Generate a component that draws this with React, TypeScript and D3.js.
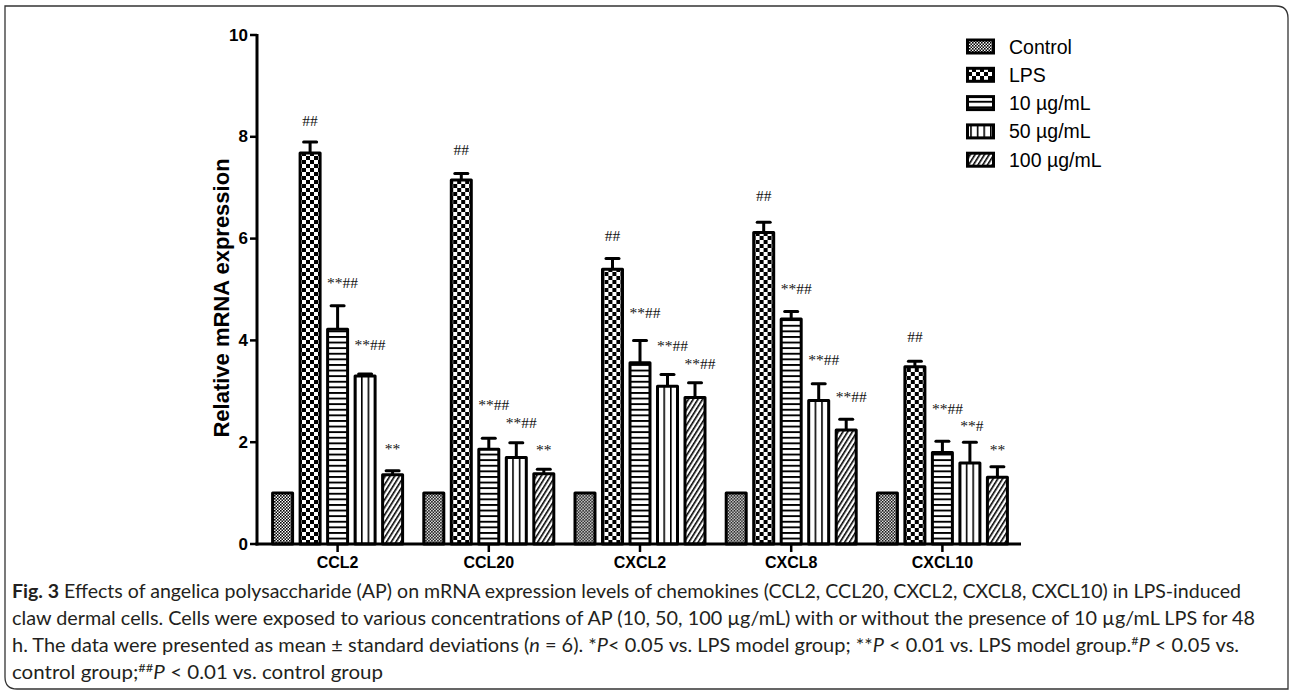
import React from "react";
import * as d3 from "d3";

const categories = ["CCL2", "CCL20", "CXCL2", "CXCL8", "CXCL10"];
const seriesNames = ["Control", "LPS", "10 µg/mL", "50 µg/mL", "100 µg/mL"];
const patternIds = ["pCtrl", "pLps", "p10", "p50", "p100"];

const controlValues = [1, 1, 1, 1, 1];
const controlErr = [0, 0, 0, 0, 0];
const lpsValues = [7.68, 7.15, 5.4, 6.12, 3.48];
const lpsErr = [0.22, 0.13, 0.21, 0.2, 0.11];
const ug10Values = [4.22, 1.86, 3.56, 4.42, 1.8];
const ug10Err = [0.46, 0.22, 0.44, 0.15, 0.22];
const ug50Values = [3.3, 1.7, 3.1, 2.82, 1.59];
const ug50Err = [0.04, 0.29, 0.23, 0.33, 0.41];
const ug100Values = [1.36, 1.38, 2.88, 2.24, 1.31];
const ug100Err = [0.08, 0.09, 0.29, 0.21, 0.21];

// significance marks and the level (in axis units) at which each is written
const controlMarks = ["", "", "", "", ""];
const lpsMarks = ["##", "##", "##", "##", "##"];
const ug10Marks = ["**##", "**##", "**##", "**##", "**##"];
const ug50Marks = ["**##", "**##", "**##", "**##", "**#"];
const ug100Marks = ["**", "**", "**##", "**##", "**"];

const controlMarkAt = [0, 0, 0, 0, 0];
const lpsMarkAt = [8.32, 7.76, 6.06, 6.84, 4.07];
const ug10MarkAt = [5.13, 2.75, 4.54, 5.01, 2.67];
const ug50MarkAt = [3.91, 2.38, 3.89, 3.63, 2.32];
const ug100MarkAt = [1.87, 1.85, 3.54, 2.89, 1.85];

const yTicks = [0, 2, 4, 6, 8, 10];

const seriesValues = [controlValues, lpsValues, ug10Values, ug50Values, ug100Values];
const seriesErrs = [controlErr, lpsErr, ug10Err, ug50Err, ug100Err];
const seriesMarks = [controlMarks, lpsMarks, ug10Marks, ug50Marks, ug100Marks];
const seriesMarkAt = [controlMarkAt, lpsMarkAt, ug10MarkAt, ug50MarkAt, ug100MarkAt];

const W = 1292;
const H = 693;
const AXIS_X = 257;
const AXIS_END = 1021;
const Y0 = 544;
const Y10 = 35;

export default function App() {
  const y = d3.scaleLinear().domain([0, 10]).range([Y0, Y10]);
  const x0 = d3.scaleBand<string>().domain(categories).range([262, 1018]).padding(0);
  const groupW = 133;
  const off = (x0.bandwidth() - groupW) / 2;
  const x1 = d3
    .scaleBand<string>()
    .domain(seriesNames)
    .range([off, off + groupW])
    .paddingInner(0.164)
    .paddingOuter(0);
  const bw = x1.bandwidth();
  const sw = 3;

  const font = "'Liberation Sans', Arial, sans-serif";
  const capFont = "Lato, 'Open Sans', sans-serif";

  return (
    <svg
      width={W}
      height={H}
      style={{ position: "absolute", left: 0, top: 0, background: "#fff" }}
    >
      <defs>
        <pattern id="pCtrl" width={3} height={3} patternUnits="userSpaceOnUse">
          <rect width={3} height={3} fill="#fff" />
          <rect width={1.6} height={1.6} fill="#000" />
          <rect x={1.5} y={1.5} width={1.6} height={1.6} fill="#000" />
        </pattern>
        <pattern id="pLps" width={8} height={8} patternUnits="userSpaceOnUse">
          <rect width={8} height={8} fill="#fff" />
          <rect width={4} height={4} fill="#000" />
          <rect x={4} y={4} width={4} height={4} fill="#000" />
        </pattern>
        <pattern id="p10" width={6} height={5.6} patternUnits="userSpaceOnUse">
          <rect width={6} height={5.6} fill="#fff" />
          <rect width={6} height={1.9} fill="#000" />
        </pattern>
        <pattern id="p50" width={6.6} height={6} patternUnits="userSpaceOnUse">
          <rect width={6.6} height={6} fill="#fff" />
          <rect width={1.6} height={6} fill="#000" />
        </pattern>
        <pattern
          id="p100"
          width={4}
          height={4}
          patternUnits="userSpaceOnUse"
          patternTransform="rotate(32)"
        >
          <rect width={4} height={4} fill="#fff" />
          <rect width={1.6} height={4} fill="#000" />
        </pattern>
      </defs>

      {/* frame */}
      <path
        d={`M5,6 H1276 Q1288,6 1288,18 V689 H17 Q5,689 5,677 Z`}
        fill="none"
        stroke="#333"
        strokeWidth={1.3}
      />

      {/* bars */}
      {categories.map((c, ci) => (
        <g key={c} transform={`translate(${x0(c)},0)`}>
          {seriesNames.map((s, si) => {
            const v = seriesValues[si][ci];
            const e = seriesErrs[si][ci];
            const bx = x1(s)!;
            const cx = bx + bw / 2;
            const top = y(v);
            const errTop = y(v + e);
            const mark = seriesMarks[si][ci];
            const dx = mark.length >= 4 ? 5 : mark.length === 3 ? 2 : 0;
            return (
              <g key={s}>
                {e > 0 && (
                  <g stroke="#000" strokeWidth={3}>
                    <line x1={cx} x2={cx} y1={top} y2={errTop} />
                    <line x1={cx - 6.5} x2={cx + 6.5} y1={errTop} y2={errTop} strokeLinecap="round" />
                  </g>
                )}
                <rect
                  x={bx + sw / 2}
                  y={top}
                  width={bw - sw}
                  height={Y0 - top}
                  fill={`url(#${patternIds[si]})`}
                  stroke="#000"
                  strokeWidth={sw}
                  strokeLinejoin="round"
                />
                {mark && (
                  <text
                    x={cx + dx}
                    y={y(seriesMarkAt[si][ci])}
                    textAnchor="middle"
                    dominantBaseline="central"
                    fontFamily="'Liberation Serif', 'Times New Roman', serif"
                    fontSize={15.5}
                    fill="#111"
                  >
                    {mark}
                  </text>
                )}
              </g>
            );
          })}
        </g>
      ))}

      {/* y axis */}
      <line x1={AXIS_X} x2={AXIS_X} y1={Y10 - 1} y2={Y0 + 1.5} stroke="#000" strokeWidth={3} />
      {yTicks.map((t) => (
        <g key={t}>
          <line x1={AXIS_X - 7} x2={AXIS_X} y1={y(t)} y2={y(t)} stroke="#000" strokeWidth={2.5} />
          <text
            x={AXIS_X - 9}
            y={y(t)}
            textAnchor="end"
            dominantBaseline="central"
            fontFamily={font}
            fontWeight="bold"
            fontSize={17}
            fill="#000"
          >
            {t}
          </text>
        </g>
      ))}
      <text
        transform={`translate(229,298) rotate(-90)`}
        textAnchor="middle"
        fontFamily={font}
        fontWeight="bold"
        fontSize={22}
        fill="#000"
      >
        Relative mRNA expression
      </text>

      {/* x axis */}
      <line x1={AXIS_X - 1.5} x2={AXIS_END} y1={Y0} y2={Y0} stroke="#000" strokeWidth={3} />
      {categories.map((c) => {
        const cx = x0(c)! + x0.bandwidth() / 2;
        return (
          <g key={c}>
            <line x1={cx} x2={cx} y1={Y0} y2={Y0 + 8} stroke="#000" strokeWidth={2.5} />
            <text
              x={cx}
              y={562}
              textAnchor="middle"
              dominantBaseline="central"
              fontFamily={font}
              fontWeight="bold"
              fontSize={16}
              fill="#000"
            >
              {c}
            </text>
          </g>
        );
      })}

      {/* legend */}
      {seriesNames.map((s, i) => {
        const cy = 46.5 + i * 28.3;
        return (
          <g key={s}>
            <rect
              x={967.5}
              y={cy - 6.5}
              width={26}
              height={13}
              fill={`url(#${patternIds[i]})`}
              stroke="#000"
              strokeWidth={3}
            />
            <text
              x={1009}
              y={cy}
              dominantBaseline="central"
              fontFamily={font}
              fontSize={19.5}
              fill="#000"
            >
              {s}
            </text>
          </g>
        );
      })}

      {/* caption */}
      <g fontFamily={capFont} fontSize={19} fill="#231f20">
        <text x={12} y={598} textLength={1229} lengthAdjust="spacingAndGlyphs">
          <tspan fontWeight="bold">Fig. 3</tspan> Effects of angelica polysaccharide (AP) on mRNA expression levels of
          chemokines (CCL2, CCL20, CXCL2, CXCL8, CXCL10) in LPS-induced
        </text>
        <text x={12} y={625} textLength={1243} lengthAdjust="spacingAndGlyphs">
          claw dermal cells. Cells were exposed to various concentrations of AP (10, 50, 100 µg/mL) with or without the
          presence of 10 µg/mL LPS for 48
        </text>
        <text x={12} y={652} textLength={1227} lengthAdjust="spacingAndGlyphs">
          h. The data were presented as mean ± standard deviations (<tspan fontStyle="italic">n</tspan> = 6). *
          <tspan fontStyle="italic">P</tspan>&lt; 0.05 vs. LPS model group; **<tspan fontStyle="italic">P</tspan> &lt;
          0.01 vs. LPS model group.
          <tspan fontSize={12} dy={-7}>#</tspan>
          <tspan fontStyle="italic" dy={7}>P</tspan> &lt; 0.05 vs.
        </text>
        <text x={12} y={679} textLength={371} lengthAdjust="spacingAndGlyphs">
          control group;<tspan fontSize={12} dy={-7}>##</tspan>
          <tspan fontStyle="italic" dy={7}>P</tspan> &lt; 0.01 vs. control group
        </text>
      </g>
    </svg>
  );
}
